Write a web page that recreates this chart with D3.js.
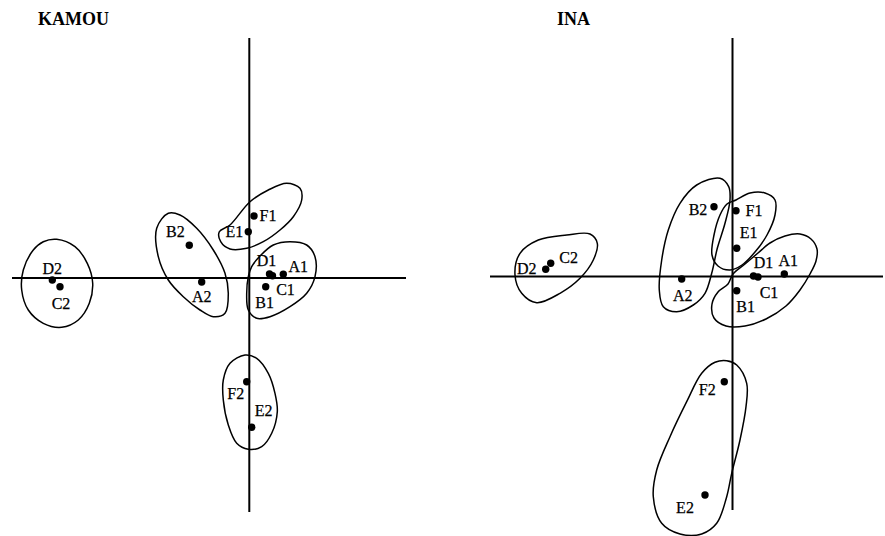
<!DOCTYPE html>
<html>
<head>
<meta charset="utf-8">
<script src="https://cdn.jsdelivr.net/npm/d3@7"></script>
<style>
  body { margin: 0; background: #fff; }
  svg { display: block; }
  .title { font: bold 18px 'Liberation Serif', serif; }
  .lbl { font: 16px 'Liberation Serif', serif; stroke: #000; stroke-width: 0.25px; }
</style>
</head>
<body>
<div class="chart-container"></div>
<script>
//! DATA
const pointNames = ['A1', 'B1', 'C1', 'D1', 'E1', 'F1', 'A2', 'B2', 'C2', 'D2', 'E2', 'F2'];

const kamouX = [0.34, 0.164, 0.232, 0.202, -0.01, 0.047, -0.476, -0.6, -1.893, -1.97, 0.024, -0.026];
const kamouY = [0.037, -0.087, 0.022, 0.04, 0.463, 0.62, -0.04, 0.327, -0.087, -0.02, -1.493, -1.037];

const inaX = [0.518, 0.042, 0.255, 0.21, 0.042, 0.035, -0.508, -0.185, -1.818, -1.868, -0.275, -0.082];
const inaY = [0.025, -0.142, -0.005, 0.005, 0.282, 0.658, -0.025, 0.698, 0.132, 0.072, -2.185, -1.052];

// hand drawn group outlines, same units as the points
const kamouGroups = [
  [[-1.926, 0.387], [-1.743, 0.313], [-1.62, 0.147], [-1.566, -0.053], [-1.6, -0.253], [-1.71, -0.42], [-1.876, -0.493],
   [-2.06, -0.453], [-2.21, -0.32], [-2.276, -0.12], [-2.26, 0.08], [-2.16, 0.28], [-2.06, 0.363]],
  [[-0.926, 0.497], [-0.81, 0.647], [-0.693, 0.63], [-0.526, 0.497], [-0.36, 0.28], [-0.243, 0.047], [-0.21, -0.153],
   [-0.243, -0.353], [-0.36, -0.387], [-0.493, -0.32], [-0.66, -0.187], [-0.81, -0.02], [-0.91, 0.213]],
  [[-0.193, 0.53], [0.007, 0.763], [0.19, 0.88], [0.374, 0.947], [0.507, 0.897], [0.524, 0.78], [0.44, 0.613],
   [0.307, 0.48], [0.14, 0.363], [-0.026, 0.297], [-0.193, 0.29], [-0.286, 0.363], [-0.3, 0.463]],
  [[0.107, 0.22], [0.24, 0.33], [0.407, 0.363], [0.574, 0.33], [0.657, 0.213], [0.657, 0.013], [0.574, -0.153],
   [0.407, -0.287], [0.207, -0.387], [0.074, -0.403], [-0.01, -0.32], [-0.026, -0.153], [-0.01, 0.013], [0.024, 0.113]],
  [[-0.043, -0.77], [0.074, -0.803], [0.19, -0.953], [0.257, -1.153], [0.28, -1.337], [0.224, -1.553], [0.124, -1.687],
   [-0.01, -1.713], [-0.126, -1.653], [-0.21, -1.47], [-0.26, -1.22], [-0.26, -1.02], [-0.193, -0.853]]
];

const inaGroups = [
  [[-2.175, 0.015], [-2.125, 0.232], [-1.942, 0.365], [-1.658, 0.415], [-1.425, 0.425], [-1.352, 0.332], [-1.392, 0.165],
   [-1.525, -0.018], [-1.725, -0.168], [-1.958, -0.262], [-2.108, -0.168]],
  [[-0.125, 0.982], [-0.038, 0.898], [-0.025, 0.765], [-0.075, 0.532], [-0.152, 0.282], [-0.208, 0.032], [-0.275, -0.168],
   [-0.392, -0.285], [-0.558, -0.352], [-0.692, -0.302], [-0.732, -0.135], [-0.708, 0.165], [-0.642, 0.465], [-0.525, 0.732],
   [-0.358, 0.915]],
  [[0.035, 0.765], [0.175, 0.835], [0.325, 0.835], [0.425, 0.765], [0.425, 0.615], [0.345, 0.415], [0.225, 0.245],
   [0.095, 0.115], [-0.025, 0.065], [-0.145, 0.105], [-0.205, 0.215], [-0.185, 0.415], [-0.125, 0.615], [-0.055, 0.725]],
  [[0.005, 0.025], [0.125, 0.125], [0.255, 0.235], [0.375, 0.335], [0.525, 0.405], [0.675, 0.425], [0.785, 0.375],
   [0.845, 0.275], [0.835, 0.155], [0.775, 0.025], [0.675, -0.135], [0.535, -0.295], [0.335, -0.425], [0.125, -0.495],
   [-0.065, -0.495], [-0.185, -0.415], [-0.205, -0.275], [-0.145, -0.155], [-0.045, -0.075]],
  [[-0.058, -0.842], [0.042, -0.885], [0.142, -1.068], [0.135, -1.302], [0.075, -1.635], [-0.008, -1.968], [-0.058, -2.202],
   [-0.158, -2.468], [-0.308, -2.575], [-0.525, -2.575], [-0.708, -2.468], [-0.792, -2.202], [-0.758, -1.935], [-0.625, -1.602],
   [-0.458, -1.252], [-0.308, -0.968], [-0.175, -0.858]]
];

//! LAYOUT (label offsets in px, same order as pointNames)
const kamouLabelOffset = [[15, -8], [-1, 16], [13, 14], [-3, -14], [-14, 0], [14, -1], [0, 14], [-14, -14], [1, 17], [0, -12], [12, -17], [-11, 12]];
const inaLabelOffset = [[4, -14], [9, 16], [11, 15], [10, -14], [12, -16], [18, 0], [1, 16], [-16, 3], [18, -6], [-19, -1], [-20, 12], [-17, 8]];

const width = 885;
const height = 536;

const panels = [
  { title: 'KAMOU', titleX: 38, xs: kamouX, ys: kamouY, groups: kamouGroups, offsets: kamouLabelOffset,
    xDomain: [-2.373, 1.567], xRange: [12, 406], yDomain: [2.4, -2.34], yRange: [38, 512] },
  { title: 'INA', titleX: 557, xs: inaX, ys: inaY, groups: inaGroups, offsets: inaLabelOffset,
    xDomain: [-2.425, 1.505], xRange: [490, 883], yDomain: [2.385, -2.335], yRange: [38, 510] }
];

//! SVG
const svg = d3.select('.chart-container')
  .append('svg')
  .attr('width', width)
  .attr('height', height);

panels.forEach(p => {
  const xScale = d3.scaleLinear().domain(p.xDomain).range(p.xRange);
  const yScale = d3.scaleLinear().domain(p.yDomain).range(p.yRange);
  const g = svg.append('g');

  g.append('text')
    .attr('class', 'title')
    .attr('x', p.titleX)
    .attr('y', 25)
    .text(p.title);

  // axes through the origin
  g.append('line')
    .attr('x1', xScale(p.xDomain[0])).attr('x2', xScale(p.xDomain[1]))
    .attr('y1', yScale(0)).attr('y2', yScale(0))
    .attr('stroke', '#000').attr('stroke-width', 2);
  g.append('line')
    .attr('x1', xScale(0)).attr('x2', xScale(0))
    .attr('y1', yScale(p.yDomain[0])).attr('y2', yScale(p.yDomain[1]))
    .attr('stroke', '#000').attr('stroke-width', 2);

  const outline = d3.line()
    .x(d => xScale(d[0]))
    .y(d => yScale(d[1]))
    .curve(d3.curveCatmullRomClosed.alpha(0.5));

  g.selectAll('path.group')
    .data(p.groups)
    .enter()
    .append('path')
    .attr('class', 'group')
    .attr('d', outline)
    .attr('fill', 'none')
    .attr('stroke', '#000')
    .attr('stroke-width', 1.5);

  const pts = pointNames.map((name, i) => ({ name, x: p.xs[i], y: p.ys[i], off: p.offsets[i] }));

  g.selectAll('circle')
    .data(pts)
    .enter()
    .append('circle')
    .attr('cx', d => xScale(d.x))
    .attr('cy', d => yScale(d.y))
    .attr('r', 3.7)
    .attr('fill', '#000');

  g.selectAll('text.lbl')
    .data(pts)
    .enter()
    .append('text')
    .attr('class', 'lbl')
    .attr('x', d => xScale(d.x) + d.off[0])
    .attr('y', d => yScale(d.y) + d.off[1])
    .attr('text-anchor', 'middle')
    .attr('dominant-baseline', 'central')
    .text(d => d.name);
});
</script>
</body>
</html>
